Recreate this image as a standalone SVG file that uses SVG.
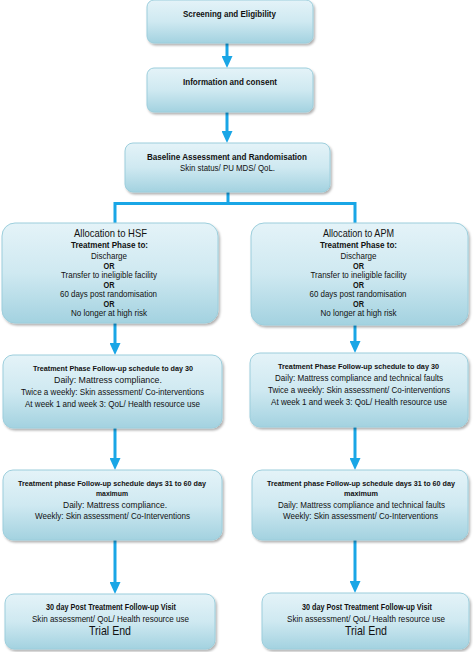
<svg xmlns="http://www.w3.org/2000/svg" width="473" height="652" viewBox="0 0 473 652">
<style>
.box{fill:url(#g);stroke:#9ccedc;stroke-width:1;filter:url(#sh)}
.t{font-family:"Liberation Sans",Arial,sans-serif;font-size:9px;fill:#111;text-anchor:middle}
.b{font-weight:bold}
.h{font-size:7.8px}
.big{font-size:10.5px}
.end{font-size:13px}
.c{fill:none;stroke:#19a6e6;stroke-width:3}
.a{marker-end:url(#ah)}
</style>
<defs>
<linearGradient id="g" x1="0" y1="0" x2="0" y2="1">
<stop offset="0" stop-color="#e4f3f8"/>
<stop offset="0.5" stop-color="#cfe9f1"/>
<stop offset="1" stop-color="#a3d2e0"/>
</linearGradient>
<filter id="sh" x="-5%" y="-10%" width="115%" height="130%">
<feDropShadow dx="1.5" dy="2" stdDeviation="1.2" flood-color="#000" flood-opacity="0.3"/>
</filter>
<marker id="ah" markerUnits="userSpaceOnUse" markerWidth="12" markerHeight="11" refX="7" refY="5.5" orient="auto">
<path d="M0,0 L12,5.5 L0,11 z" fill="#19a6e6"/>
</marker>
</defs>
<rect width="473" height="652" fill="#fff"/>
<g id="connectors">
<line class="c a" x1="227" y1="43" x2="227" y2="63"/>
<line class="c a" x1="227" y1="112" x2="227" y2="138"/>
<polyline class="c" points="228,192 228,203.5 115,203.5 115,223"/>
<polyline class="c" points="228,203.5 355,203.5 355,223"/>
<line class="c a" x1="115" y1="323" x2="115" y2="350"/>
<line class="c a" x1="355" y1="325" x2="355" y2="348"/>
<line class="c a" x1="115" y1="428" x2="115" y2="465"/>
<line class="c a" x1="355" y1="427" x2="355" y2="465"/>
<line class="c a" x1="115" y1="540" x2="115" y2="589"/>
<line class="c a" x1="355" y1="540" x2="355" y2="588"/>
</g>
<g id="screening">
<rect class="box" x="147" y="0" width="166" height="43" rx="7"/>
<text class="t b" x="229.5" y="17" textLength="93" lengthAdjust="spacingAndGlyphs">Screening and Eligibility</text>
</g>
<g id="consent">
<rect class="box" x="147" y="68" width="166" height="44" rx="7"/>
<text class="t b" x="230" y="85" textLength="94" lengthAdjust="spacingAndGlyphs">Information and consent</text>
</g>
<g id="baseline">
<rect class="box" x="125" y="143" width="205" height="49" rx="8"/>
<text class="t b" x="227" y="160" textLength="160" lengthAdjust="spacingAndGlyphs">Baseline Assessment and Randomisation</text>
<text class="t" x="227.5" y="171" textLength="95" lengthAdjust="spacingAndGlyphs">Skin status/ PU MDS/ QoL.</text>
</g>
<g id="alloc-hsf">
<rect class="box" x="2" y="223" width="216" height="100" rx="13"/>
<text class="t big" x="110.5" y="236.5" textLength="73" lengthAdjust="spacingAndGlyphs">Allocation to HSF</text>
<text class="t b" x="109.5" y="248" textLength="77" lengthAdjust="spacingAndGlyphs">Treatment Phase to:</text>
<text class="t" x="109" y="259" textLength="36" lengthAdjust="spacingAndGlyphs">Discharge</text>
<text class="t b" x="109" y="268.5" textLength="11" lengthAdjust="spacingAndGlyphs">OR</text>
<text class="t" x="109" y="278" textLength="96" lengthAdjust="spacingAndGlyphs">Transfer to ineligible facility</text>
<text class="t b" x="109" y="287.5" textLength="11" lengthAdjust="spacingAndGlyphs">OR</text>
<text class="t" x="108.5" y="297" textLength="97" lengthAdjust="spacingAndGlyphs">60 days post randomisation</text>
<text class="t b" x="109" y="306.5" textLength="11" lengthAdjust="spacingAndGlyphs">OR</text>
<text class="t" x="109" y="316" textLength="76" lengthAdjust="spacingAndGlyphs">No longer at high risk</text>
</g>
<g id="alloc-apm">
<rect class="box" x="251" y="223" width="217" height="102" rx="13"/>
<text class="t big" x="358.5" y="236.5" textLength="71" lengthAdjust="spacingAndGlyphs">Allocation to APM</text>
<text class="t b" x="358.5" y="248" textLength="77" lengthAdjust="spacingAndGlyphs">Treatment Phase to:</text>
<text class="t" x="358.5" y="259" textLength="36" lengthAdjust="spacingAndGlyphs">Discharge</text>
<text class="t b" x="358.5" y="268.5" textLength="11" lengthAdjust="spacingAndGlyphs">OR</text>
<text class="t" x="358.5" y="278" textLength="96" lengthAdjust="spacingAndGlyphs">Transfer to ineligible facility</text>
<text class="t b" x="358.5" y="287.5" textLength="11" lengthAdjust="spacingAndGlyphs">OR</text>
<text class="t" x="358" y="297" textLength="97" lengthAdjust="spacingAndGlyphs">60 days post randomisation</text>
<text class="t b" x="358.5" y="306.5" textLength="11" lengthAdjust="spacingAndGlyphs">OR</text>
<text class="t" x="358.5" y="316" textLength="76" lengthAdjust="spacingAndGlyphs">No longer at high risk</text>
</g>
<g id="hsf-day30">
<rect class="box" x="3" y="355" width="219" height="73" rx="10"/>
<text class="t b h" x="113" y="371" textLength="160" lengthAdjust="spacingAndGlyphs">Treatment Phase Follow-up schedule to day 30</text>
<text class="t" x="108" y="383" textLength="108" lengthAdjust="spacingAndGlyphs">Daily: Mattress compliance.</text>
<text class="t" x="112.5" y="395" textLength="183" lengthAdjust="spacingAndGlyphs">Twice a weekly: Skin assessment/ Co-interventions</text>
<text class="t" x="112.5" y="406.5" textLength="175" lengthAdjust="spacingAndGlyphs">At week 1 and week 3: QoL/ Health resource use</text>
</g>
<g id="apm-day30">
<rect class="box" x="250" y="353" width="218" height="74" rx="10"/>
<text class="t b h" x="358.5" y="369" textLength="161" lengthAdjust="spacingAndGlyphs">Treatment Phase Follow-up schedule to day 30</text>
<text class="t" x="359" y="381" textLength="168" lengthAdjust="spacingAndGlyphs">Daily: Mattress compliance and technical faults</text>
<text class="t" x="359" y="393" textLength="182" lengthAdjust="spacingAndGlyphs">Twice a weekly: Skin assessment/ Co-interventions</text>
<text class="t" x="359" y="405" textLength="176" lengthAdjust="spacingAndGlyphs">At week 1 and week 3: QoL/ Health resource use</text>
</g>
<g id="hsf-day60">
<rect class="box" x="3" y="470" width="219" height="70" rx="10"/>
<text class="t b h" x="112" y="486" textLength="188" lengthAdjust="spacingAndGlyphs">Treatment phase Follow-up schedule days 31 to 60 day</text>
<text class="t b h" x="112" y="496" textLength="32" lengthAdjust="spacingAndGlyphs">maximum</text>
<text class="t" x="115" y="507.5" textLength="104" lengthAdjust="spacingAndGlyphs">Daily: Mattress compliance.</text>
<text class="t" x="112.5" y="518.5" textLength="155" lengthAdjust="spacingAndGlyphs">Weekly: Skin assessment/ Co-Interventions</text>
</g>
<g id="apm-day60">
<rect class="box" x="252" y="470" width="216" height="70" rx="10"/>
<text class="t b h" x="361" y="486" textLength="188" lengthAdjust="spacingAndGlyphs">Treatment phase Follow-up schedule days 31 to 60 day</text>
<text class="t b h" x="361" y="496" textLength="34" lengthAdjust="spacingAndGlyphs">maximum</text>
<text class="t" x="361.5" y="507.5" textLength="167" lengthAdjust="spacingAndGlyphs">Daily: Mattress compliance and technical faults</text>
<text class="t" x="360.5" y="518.5" textLength="155" lengthAdjust="spacingAndGlyphs">Weekly: Skin assessment/ Co-Interventions</text>
</g>
<g id="hsf-post">
<rect class="box" x="5" y="594" width="210" height="55" rx="9"/>
<text class="t b" x="111" y="610" textLength="130" lengthAdjust="spacingAndGlyphs">30 day Post Treatment Follow-up Visit</text>
<text class="t" x="110.5" y="622" textLength="157" lengthAdjust="spacingAndGlyphs">Skin assessment/ QoL/ Health resource use</text>
<text class="t end" x="110" y="635" textLength="42" lengthAdjust="spacingAndGlyphs">Trial End</text>
</g>
<g id="apm-post">
<rect class="box" x="262" y="593" width="207" height="56" rx="9"/>
<text class="t b" x="367" y="610" textLength="130" lengthAdjust="spacingAndGlyphs">30 day Post Treatment Follow-up Visit</text>
<text class="t" x="366" y="622" textLength="158" lengthAdjust="spacingAndGlyphs">Skin assessment/ QoL/ Health resource use</text>
<text class="t end" x="366" y="635" textLength="42" lengthAdjust="spacingAndGlyphs">Trial End</text>
</g>
</svg>
